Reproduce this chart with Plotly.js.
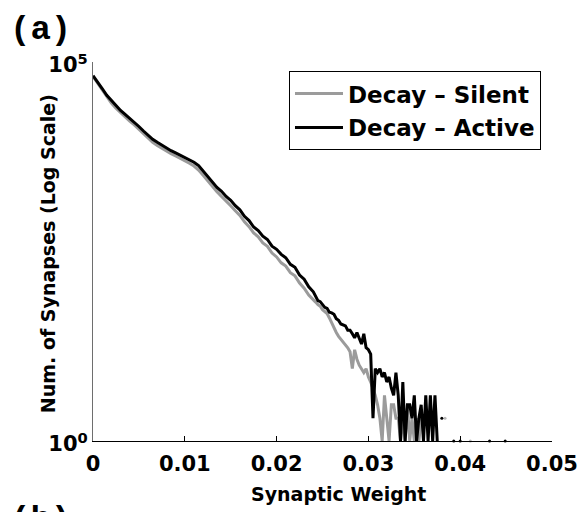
<!DOCTYPE html>
<html>
<head>
<meta charset="utf-8">
<script src="https://cdn.plot.ly/plotly-3.0.1.min.js"></script>
<style>html,body{margin:0;padding:0;background:#fff;}#chart{width:582px;height:512px;}</style>
</head>
<body>
<div id="chart"></div>
<script>
// Synaptic weight bins (shared by both series)
const weights = [
  0, 0.0005, 0.001, 0.0015, 0.002, 0.0025, 0.003, 0.0035, 0.004, 0.0045,
  0.005, 0.0055, 0.006, 0.0065, 0.007, 0.0075, 0.008, 0.0085, 0.009, 0.0095,
  0.010, 0.0105, 0.011, 0.0115, 0.012, 0.0125, 0.013, 0.0135, 0.014, 0.0145,
  0.015, 0.0155, 0.016, 0.0165, 0.017, 0.0175, 0.018, 0.0185, 0.019, 0.0195,
  0.020, 0.0205, 0.021, 0.0215, 0.022, 0.0225, 0.023, 0.0235, 0.024,
  0.02425, 0.0245, 0.02475, 0.025, 0.02525, 0.0255, 0.02575, 0.026, 0.02625, 0.0265,
  0.02675, 0.027, 0.02725, 0.0275, 0.02775, 0.028, 0.02825, 0.0285, 0.02875, 0.029,
  0.02925, 0.0295, 0.02975, 0.030, 0.03025, 0.0305, 0.03075, 0.031, 0.03125, 0.0315,
  0.03175, 0.032, 0.03225, 0.0325, 0.03275, 0.033, 0.03325, 0.0335, 0.03375, 0.034,
  0.03425, 0.0345, 0.03475, 0.035, 0.03525, 0.0355, 0.03575, 0.036, 0.03625, 0.0365,
  0.03675, 0.037, 0.03725, 0.0375
];

// Number of synapses per bin — Decay – Silent
const silentCounts = [
  64600, 52500, 42700, 34700, 28800, 24500, 21400, 19100, 16600, 14800,
  12900, 11200, 9770, 8710, 7940, 7240, 6610, 6170, 5750, 5370,
  5010, 4620, 4240, 3760, 3200, 2690, 2330, 1950, 1690, 1440,
  1270, 1090, 945, 780, 672, 556, 495, 410, 370, 302,
  268, 224, 203, 166, 151, 121, 104, 84, 74,
  68, 63, 60, 54, 51, 48, 42, 36, 32, 27,
  24, 22, 20, 18, 17, 15, 9, 16, 12, 10,
  9, 8, 9, 7, 6, 5, 4, 3, 2, 1,
  4, 2, 1, 3, 3, 2, 2, 1, 2, 1,
  3, 1, 2, 1, 2, 1, 2, null, null, null,
  null, null, null, null
];

// Number of synapses per bin — Decay – Active
const activeCounts = [
  66000, 55000, 44700, 36300, 30900, 26300, 22900, 20400, 18200, 16200,
  14100, 12300, 10700, 9550, 8710, 7940, 7240, 6760, 6310, 5890,
  5500, 5150, 4760, 4300, 3660, 3100, 2660, 2220, 1970, 1680,
  1500, 1270, 1120, 920, 810, 665, 598, 505, 455, 372,
  338, 290, 262, 214, 196, 155, 136, 108, 93,
  80, 71, 69, 62, 58, 56, 50, 49, 47, 41,
  39, 35, 34, 33, 29, 29, 26, 23, 27, 22,
  19, 26, 17, 16, 14, 2, 9, 8, 9, 7,
  8, 6, 7, 5, 4, 8, 4, 1, 6, 1,
  3, 3, 2, 4, 1, 2, 3, 1, 4, 1,
  4, 1, 4, 1
];

// Isolated non-empty bins in the far tail
const silentTailX = [0.03835, 0.0411];
const silentTailY = [2, 1];
const activeTailX = [0.0380, 0.0393, 0.0400, 0.0432, 0.0449];
const activeTailY = [2, 1, 1, 1, 1];

// Axis ticks
const xTickVals = [0, 0.01, 0.02, 0.03, 0.04, 0.05];
const xTickText = ['0', '0.01', '0.02', '0.03', '0.04', '0.05'];
const yTickVals = [1, 100000];
const yTickText = ['10<sup>0</sup>', '10<sup>5</sup>'];

const seriesNames = ['Decay \u2013 Silent', 'Decay \u2013 Active'];
const GRAY = '#9b9b9b', BLACK = '#000000';
const FONT = 'DejaVu Sans, Liberation Sans, Arial, sans-serif';

const traces = [
  {x: weights, y: silentCounts, type: 'scatter', mode: 'lines', name: seriesNames[0],
   legendgroup: 'g1', line: {color: GRAY, width: 3}, connectgaps: false},
  {x: weights, y: activeCounts, type: 'scatter', mode: 'lines', name: seriesNames[1],
   legendgroup: 'g2', line: {color: BLACK, width: 3}, connectgaps: false},
  {x: silentTailX, y: silentTailY, type: 'scatter', mode: 'markers', showlegend: false,
   legendgroup: 'g1', marker: {color: '#b8b8b8', size: 3}, cliponaxis: false, hoverinfo: 'skip'},
  {x: activeTailX, y: activeTailY, type: 'scatter', mode: 'markers', showlegend: false,
   legendgroup: 'g2', marker: {color: BLACK, size: 3}, cliponaxis: false, hoverinfo: 'skip'}
];

const layout = {
  width: 582, height: 512,
  margin: {l: 93, r: 30, t: 62, b: 71, pad: 0},
  paper_bgcolor: '#ffffff', plot_bgcolor: '#ffffff',
  font: {family: FONT, color: '#000', weight: 'bold'},
  showlegend: true,
  xaxis: {
    range: [0, 0.05], tickvals: xTickVals, ticktext: xTickText,
    showgrid: false, zeroline: false, showline: true, linecolor: '#000', linewidth: 1,
    ticks: 'inside', ticklen: 5, tickcolor: '#000', tickwidth: 1,
    ticklabelstandoff: 4,
    tickfont: {family: FONT, size: 21, color: '#000', weight: 'bold'},
    fixedrange: true
  },
  yaxis: {
    type: 'log', range: [0, 5], tickvals: yTickVals, ticktext: yTickText,
    showgrid: false, zeroline: false, showline: true, linecolor: '#6e6e6e', linewidth: 1,
    ticks: 'inside', ticklen: 5, tickcolor: '#6e6e6e', tickwidth: 1,
    ticklabelshift: 3,
    tickfont: {family: FONT, size: 21, color: '#000', weight: 'bold'},
    fixedrange: true
  },
  legend: {
    x: 0.427, y: 0.976, xanchor: 'left', yanchor: 'top',
    bgcolor: '#ffffff', bordercolor: '#000', borderwidth: 1,
    font: {family: FONT, size: 23, color: '#000', weight: 'bold'},
    traceorder: 'grouped', tracegroupgap: 1, itemwidth: 48
  },
  annotations: [
    {text: 'Synaptic Weight', xref: 'paper', yref: 'paper', x: 0.535, y: -0.14,
     xanchor: 'center', yanchor: 'middle', showarrow: false,
     font: {family: FONT, size: 19, color: '#000', weight: 'bold'}},
    {text: 'Num. of Synapses (Log Scale)', xref: 'paper', yref: 'paper', x: -0.098, y: 0.493,
     xanchor: 'center', yanchor: 'middle', textangle: -90, showarrow: false,
     font: {family: FONT, size: 19, color: '#000', weight: 'bold'}},
    {text: '(a)', xref: 'paper', yref: 'paper', x: -0.185, y: 1.14,
     xanchor: 'left', yanchor: 'top', showarrow: false,
     font: {family: 'Liberation Mono, Courier New, monospace', size: 34, color: '#000', weight: 'bold'}},
    {text: '(b)', xref: 'paper', yref: 'paper', x: -0.185, y: -0.152,
     xanchor: 'left', yanchor: 'top', showarrow: false,
     font: {family: 'Liberation Mono, Courier New, monospace', size: 34, color: '#000', weight: 'bold'}}
  ]
};

Plotly.newPlot('chart', traces, layout, {staticPlot: true, displayModeBar: false});
</script>
</body>
</html>
